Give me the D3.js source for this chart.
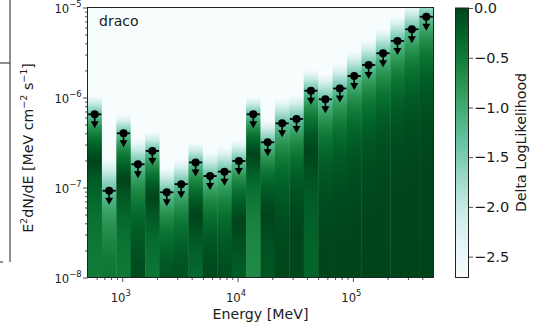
<!DOCTYPE html>
<html>
<head>
<meta charset="utf-8">
<script src="https://cdn.jsdelivr.net/npm/d3@7"></script>
<style>
  body { margin: 0; background: #fff; }
  text { font-family: "DejaVu Sans", sans-serif; fill: #1a1a1a; }
</style>
</head>
<body>
<svg id="chart" width="541" height="328"></svg>
<script>
// Energy bin edges [MeV], 8 bins per decade from 500 MeV to 500 GeV
const energyEdges = [500, 666.8, 889.1, 1185.7, 1581.1, 2108.5, 2811.7, 3749.5,
  5000, 6667.6, 8891.4, 11856.8, 15811.4, 21084.9, 28117.0, 37494.7,
  50000, 66676, 88914, 118568, 158114, 210848, 281171, 374947, 500000];

// 95% upper limits on E^2 dN/dE [MeV cm^-2 s^-1]
const upperLimits = [6.5e-7, 9.2e-8, 4.0e-7, 1.81e-7, 2.55e-7, 8.85e-8, 1.09e-7, 1.9e-7,
  1.34e-7, 1.5e-7, 1.97e-7, 6.5e-7, 3.18e-7, 5.16e-7, 5.77e-7, 1.19e-6,
  9.55e-7, 1.26e-6, 1.73e-6, 2.30e-6, 3.10e-6, 4.25e-6, 5.73e-6, 7.9e-6];

// Best-fit E^2 dN/dE per bin (peak of each likelihood profile)
const bestFitNorms = [1.95e-7, -3.7e-8, 1.2e-7, 0, 7.6e-8, 0, 0, 4.8e-8,
  6.7e-9, 0, 3.9e-8, 2.3e-7, 4.8e-8, 0, 2.9e-8, 2.4e-7,
  0, 0, 0, 0, 0, 0, 0, 0];

const profileIndex = 1.1;     // shape of the log-likelihood profile
const ulDeltaLogL = -1.35;    // delta log-likelihood at the 95% upper limit
const dllFloor = -2.71;       // colour-scale minimum

const yTickExponents = [-8, -7, -6, -5];
const xTickExponents = [3, 4, 5];
const cbarTicks = [0, -0.5, -1.0, -1.5, -2.0, -2.5];
const sourceName = "draco";

const svg = d3.select("#chart");
const plot = { left: 87.5, right: 433.5, top: 7.5, bottom: 277.5 };
const cbar = { left: 455.5, right: 468.5, top: 8, bottom: 277.5 };

const x = d3.scaleLog().domain([energyEdges[0], energyEdges[energyEdges.length - 1]])
  .range([plot.left, plot.right]);
const y = d3.scaleLog().domain([Math.pow(10, yTickExponents[0]), Math.pow(10, yTickExponents[yTickExponents.length - 1])])
  .range([plot.bottom, plot.top]);
const color = d3.scaleSequential(d3.interpolateBuGn).domain([dllFloor, 0]).clamp(true);

function deltaLogL(i, flux) {
  const mu = bestFitNorms[i], ul = upperLimits[i];
  const v = ulDeltaLogL * Math.pow(Math.abs(flux - mu) / (ul - mu), profileIndex);
  return Math.max(v, dllFloor);
}

const bins = upperLimits.map((ul, i) => ({
  i, ul, lo: energyEdges[i], hi: energyEdges[i + 1],
  center: Math.sqrt(energyEdges[i] * energyEdges[i + 1])
}));

const defs = svg.append("defs");
const nStops = 140;
bins.forEach(b => {
  const g = defs.append("linearGradient").attr("id", "col" + b.i)
    .attr("gradientUnits", "userSpaceOnUse")
    .attr("x1", 0).attr("x2", 0).attr("y1", plot.top).attr("y2", plot.bottom);
  for (let k = 0; k <= nStops; k++) {
    const py = plot.top + (plot.bottom - plot.top) * k / nStops;
    g.append("stop").attr("offset", k / nStops)
      .attr("stop-color", color(deltaLogL(b.i, y.invert(py))));
  }
});

// Likelihood columns
svg.append("g").selectAll("rect").data(bins).join("rect")
  .attr("x", d => x(d.lo))
  .attr("width", d => x(d.hi) - x(d.lo) + (d.i < bins.length - 1 ? 0.4 : 0))
  .attr("y", plot.top).attr("height", plot.bottom - plot.top)
  .attr("fill", d => "url(#col" + d.i + ")");

// Upper-limit markers
const mk = svg.append("g").selectAll("g").data(bins).join("g")
  .attr("transform", d => `translate(${x(d.center)},${y(d.ul)})`);
mk.append("line")
  .attr("x1", d => x(d.lo) + 0.6 - x(d.center)).attr("x2", d => x(d.hi) - 0.6 - x(d.center))
  .attr("y1", 0).attr("y2", 0).attr("stroke", "#000").attr("stroke-width", 1.8);
mk.append("line").attr("x1", 0).attr("x2", 0).attr("y1", 0).attr("y2", 10)
  .attr("stroke", "#000").attr("stroke-width", 1.6);
mk.append("path").attr("d", "M-4,7L4,7L0,14Z").attr("fill", "#000");
mk.append("circle").attr("r", 4).attr("fill", "#000");

// Minor / major tick values
const minorOf = (e0, e1) => {
  const out = [];
  for (let e = e0; e < e1; e++) for (let m = 2; m <= 9; m++) out.push(m * Math.pow(10, e));
  return out;
};
const xMinor = minorOf(2, 6).filter(v => v > x.domain()[0] && v < x.domain()[1]);
const yMinor = minorOf(-8, -5);

function sup(sel, exp) {
  sel.text(null);
  sel.append("tspan").text("10");
  sel.append("tspan").attr("dy", -5.5).attr("font-size", 8.4)
    .text(exp < 0 ? "\u2212" + (-exp) : String(exp));
}

// X axis
const gx = svg.append("g").attr("transform", `translate(0,${plot.bottom})`);
gx.call(d3.axisBottom(x).tickValues(xMinor).tickSize(2.5).tickFormat(""));
gx.call(g => g.select(".domain").remove());
const gxM = svg.append("g").attr("transform", `translate(0,${plot.bottom})`)
  .call(d3.axisBottom(x).tickValues(xTickExponents.map(e => Math.pow(10, e))).tickSize(4.5).tickFormat(""));
gxM.select(".domain").remove();
svg.selectAll(".tick line").attr("stroke", "#222").attr("stroke-width", 0.8);
svg.append("g").selectAll("text").data(xTickExponents).join("text")
  .attr("x", e => x(Math.pow(10, e)) - 1.5).attr("y", 301.5)
  .attr("text-anchor", "middle").attr("font-size", 11.6)
  .each(function (e) { sup(d3.select(this), e); });

// Y axis
const gy = svg.append("g").attr("transform", `translate(${plot.left},0)`);
gy.call(d3.axisLeft(y).tickValues(yMinor).tickSize(2.5).tickFormat(""));
gy.select(".domain").remove();
const gyM = svg.append("g").attr("transform", `translate(${plot.left},0)`)
  .call(d3.axisLeft(y).tickValues(yTickExponents.map(e => Math.pow(10, e))).tickSize(4.5).tickFormat(""));
gyM.select(".domain").remove();
svg.selectAll(".tick line").attr("stroke", "#222").attr("stroke-width", 0.8);
svg.append("g").selectAll("text").data(yTickExponents).join("text")
  .attr("x", 81.5).attr("y", e => y(Math.pow(10, e)) + 5)
  .attr("text-anchor", "end").attr("font-size", 11.6)
  .each(function (e) { sup(d3.select(this), e); });

// Frame
svg.append("rect").attr("x", plot.left).attr("y", plot.top)
  .attr("width", plot.right - plot.left).attr("height", plot.bottom - plot.top)
  .attr("fill", "none").attr("stroke", "#222").attr("stroke-width", 1);

// Labels
svg.append("text").attr("x", 260.5).attr("y", 319).attr("text-anchor", "middle")
  .attr("font-size", 14.2).text("Energy [MeV]");

const yl = svg.append("text").attr("transform", "translate(33,148) rotate(-90)")
  .attr("text-anchor", "middle").attr("font-size", 14.2);
yl.append("tspan").text("E");
yl.append("tspan").attr("dy", -6).attr("font-size", 9.5).text("2");
yl.append("tspan").attr("dy", 6).text("dN/dE [MeV cm");
yl.append("tspan").attr("dy", -6).attr("font-size", 9.5).text("\u22122");
yl.append("tspan").attr("dy", 6).text(" s");
yl.append("tspan").attr("dy", -6).attr("font-size", 9.5).text("\u22121");
yl.append("tspan").attr("dy", 6).text("]");

svg.append("text").attr("x", 99).attr("y", 25.5).attr("font-size", 14).text(sourceName);

// Colour bar
const cy = d3.scaleLinear().domain([dllFloor, 0]).range([cbar.bottom, cbar.top]);
const cg = defs.append("linearGradient").attr("id", "cbarGrad")
  .attr("x1", 0).attr("x2", 0).attr("y1", 1).attr("y2", 0);
d3.range(0, 1.0001, 0.05).forEach(t => {
  cg.append("stop").attr("offset", t).attr("stop-color", color(dllFloor + t * (0 - dllFloor)));
});
svg.append("rect").attr("x", cbar.left).attr("y", cbar.top)
  .attr("width", cbar.right - cbar.left).attr("height", cbar.bottom - cbar.top)
  .attr("fill", "url(#cbarGrad)").attr("stroke", "#222").attr("stroke-width", 1);
const gc = svg.append("g").attr("transform", `translate(${cbar.right},0)`)
  .call(d3.axisRight(cy).tickValues(cbarTicks).tickSize(4.5).tickFormat(""));
gc.select(".domain").remove();
gc.selectAll("line").attr("stroke", "#222").attr("stroke-width", 0.8);
svg.append("g").selectAll("text").data(cbarTicks).join("text")
  .attr("x", 474).attr("y", d => cy(d) + 5.2).attr("font-size", 14.5)
  .text(d => d3.format(".1f")(d).replace("-", "\u2212"));
svg.append("text").attr("transform", "translate(526,142.5) rotate(-90)")
  .attr("text-anchor", "middle").attr("font-size", 14.2).text("Delta LogLikelihood");

// Edge of the neighbouring panel
const edge = svg.append("g").attr("stroke", "#222").attr("stroke-width", 1).attr("fill", "none");
edge.append("line").attr("x1", 10).attr("x2", 10).attr("y1", 0).attr("y2", 262);
edge.append("line").attr("x1", 0).attr("x2", 10).attr("y1", 63).attr("y2", 63);
edge.append("line").attr("x1", 0).attr("x2", 3).attr("y1", 262).attr("y2", 262);
</script>
</body>
</html>
